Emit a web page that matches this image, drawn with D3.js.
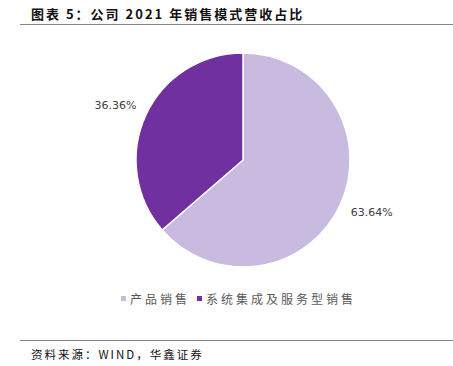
<!DOCTYPE html>
<html><head><meta charset="utf-8">
<script src="https://cdn.jsdelivr.net/npm/d3@7"></script>
<style>body{margin:0;background:#fff}svg{display:block}</style>
</head><body>
<script>
const categories = ["产品销售", "系统集成及服务型销售"];
const values = [63.64, 36.36];
const labels = ["63.64%", "36.36%"];
const colors = ["#C9BBDF", "#7030A0"];

const W = 453, H = 366;
const svg = d3.select("body").append("svg").attr("width", W).attr("height", H);

svg.append("text").attr("x", 31).attr("y", 19)
  .attr("font-family", "Noto Sans CJK SC").attr("font-weight", "bold").attr("font-size", 13)
  .attr("letter-spacing", 2).attr("fill", "#111").text("图表 5：公司 2021 年销售模式营收占比");
svg.append("line").attr("x1", 20).attr("x2", 453).attr("y1", 24.5).attr("y2", 24.5)
  .attr("stroke", "#888").attr("stroke-width", 1.2);

const cx = 243, cy = 160, r = 107;
const pie = d3.pie().sort(null).value(d => d)(values);
const arc = d3.arc().innerRadius(0).outerRadius(r);
const g = svg.append("g").attr("transform", `translate(${cx},${cy})`);
g.selectAll("path").data(pie).join("path")
  .attr("d", arc).attr("fill", (d, i) => colors[i])
  .attr("stroke", "#fff").attr("stroke-width", 1.5);

const labelArc = d3.arc().innerRadius(r + 30).outerRadius(r + 30);
g.selectAll("text.lbl").data(pie).join("text").attr("class", "lbl")
  .attr("transform", (d, i) => {
    const [x, y] = labelArc.centroid(d);
    return `translate(${x + (i === 0 ? 4 : -3)},${y + (i === 0 ? -4 : 2)})`;
  })
  .attr("text-anchor", "middle").attr("dominant-baseline", "central")
  .attr("font-family", "DejaVu Sans").attr("font-size", 11).attr("fill", "#404040")
  .text((d, i) => labels[i]);

// legend
const legend = svg.append("g").attr("font-family", "Noto Sans CJK SC").attr("font-size", 12).attr("fill", "#595959");
const lx = [121, 197];
categories.forEach((c, i) => {
  legend.append("rect").attr("x", lx[i]).attr("y", 296).attr("width", 5).attr("height", 5).attr("fill", colors[i]);
  legend.append("text").attr("x", lx[i] + 9).attr("y", 303.5).attr("letter-spacing", 3)
    .attr("fill", "#595959").text(c);
});

svg.append("line").attr("x1", 20).attr("x2", 453).attr("y1", 340.5).attr("y2", 340.5)
  .attr("stroke", "#888").attr("stroke-width", 1.2);
svg.append("text").attr("x", 31).attr("y", 359)
  .attr("font-family", "Noto Sans CJK SC").attr("font-size", 11.5).attr("letter-spacing", 2)
  .attr("fill", "#111").text("资料来源：WIND，华鑫证券");
</script>
</body></html>
